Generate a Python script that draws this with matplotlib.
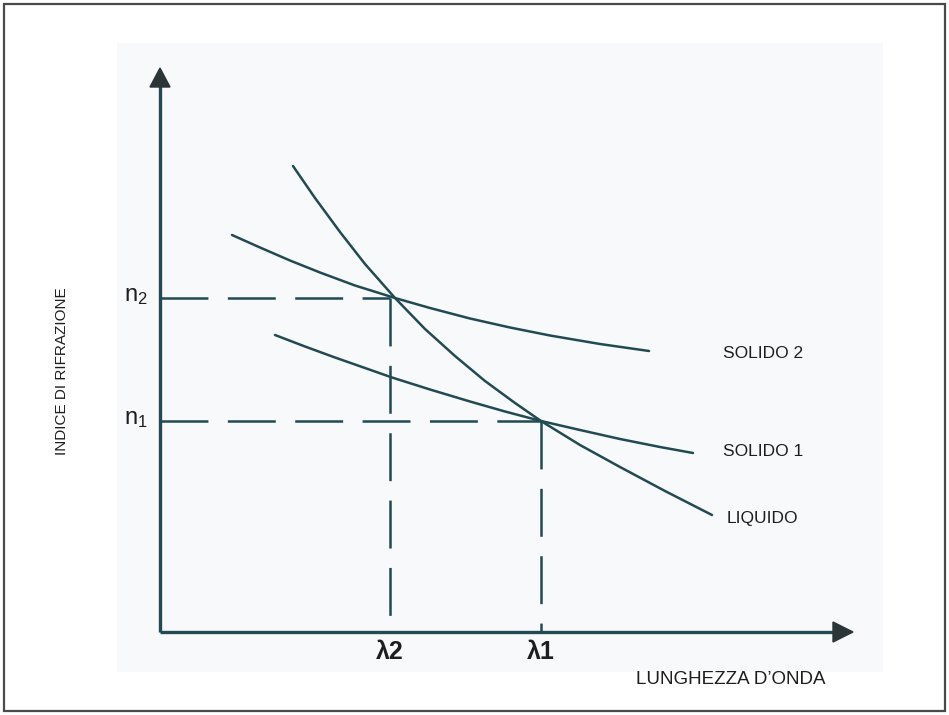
import matplotlib
matplotlib.use("Agg")
import matplotlib.pyplot as plt
from matplotlib.patches import Rectangle

# ---------------- data ----------------
# units: x = (px - 160)/10, y = (632 - py)/10
lam2 = 23.0
lam1 = 38.1
n2 = 33.4
n1 = 21.1

liq_x = [13.3, 15.5, 18.0, 20.5, 23.5, 26.5, 29.5, 32.5, 35.5, 38.1, 42.0, 46.0, 50.5, 55.2]
liq_y = [46.6, 43.4, 40.0, 36.8, 33.4, 30.3, 27.6, 25.1, 22.9, 21.1, 18.7, 16.5, 14.1, 11.7]

sol2_x = [7.2, 10.0, 13.0, 16.0, 19.5, 23.5, 27.0, 31.0, 35.0, 39.0, 44.0, 48.9]
sol2_y = [39.7, 38.45, 37.15, 35.95, 34.65, 33.4, 32.4, 31.35, 30.45, 29.65, 28.8, 28.1]

sol1_x = [11.5, 14.5, 17.5, 20.5, 23.2, 27.0, 31.0, 34.5, 38.1, 42.0, 46.0, 50.0, 53.3]
sol1_y = [29.7, 28.55, 27.45, 26.4, 25.45, 24.25, 23.05, 22.05, 21.1, 20.2, 19.3, 18.5, 17.9]

curve_labels = ["SOLIDO 2", "SOLIDO 1", "LIQUIDO"]
curve_label_x = [56.3, 56.3, 56.7]
curve_label_y = [27.8, 18.1, 11.3]
x_label = "LUNGHEZZA D\u2019ONDA"
y_label = "INDICE DI RIFRAZIONE"
x_ticks = [lam2, lam1]
x_tick_labels = ["\u03bb2", "\u03bb1"]
y_ticks = [n2, n1]
y_tick_labels = [r"n$_{2}$", r"n$_{1}$"]

x_axis_end = 69.3
y_axis_end = 56.4

# ---------------- style ----------------
plt.rcParams["font.family"] = ["Liberation Sans", "DejaVu Sans"]
plt.rcParams["mathtext.fontset"] = "custom"
plt.rcParams["mathtext.rm"] = "Liberation Sans"
plt.rcParams["mathtext.it"] = "Liberation Sans"
plt.rcParams["mathtext.bf"] = "Liberation Sans:bold"
plt.rcParams["lines.scale_dashes"] = False

line_col = "#214a53"
head_col = "#2b3437"
text_col = "#1e1e1e"

fig = plt.figure(figsize=(9.49, 7.15), dpi=100)
fig.patch.set_facecolor("white")
ax = fig.add_axes([0, 0, 1, 1])
ax.set_xlim(-16.0, 78.9)
ax.set_ylim(-8.3, 63.2)
ax.axis("off")

# outer border
fig.patches.append(Rectangle((0.004, 0.005), 0.992, 0.99, transform=fig.transFigure,
                             fill=False, edgecolor="#4a4a4a", linewidth=1.6, zorder=0))
# light panel
ax.add_patch(Rectangle((-4.3, -4.0), 76.6, 62.9, facecolor="#f8f9fb",
                       edgecolor="none", zorder=0))

# dashed guide lines
dash = (34.5, 14.0)
for xv, yv in zip(x_ticks, [n2, n1]):
    ax.plot([0, xv], [yv, yv], color=line_col, lw=1.8, dashes=dash, zorder=2)
    ax.plot([xv, xv], [yv, 0], color=line_col, lw=1.8, dashes=dash, zorder=2)

# curves
for xs, ys in [(sol2_x, sol2_y), (sol1_x, sol1_y), (liq_x, liq_y)]:
    ax.plot(xs, ys, color=line_col, lw=1.8, solid_joinstyle="round",
            solid_capstyle="round", zorder=3)

# axes with arrowheads
ax.plot([0, x_axis_end - 1.5], [0, 0], color=line_col, lw=2.4, zorder=4, solid_capstyle="butt")
ax.plot([0, 0], [0, y_axis_end - 1.5], color=line_col, lw=2.4, zorder=4, solid_capstyle="butt")
ax.arrow(x_axis_end - 2.0, 0, 2.0, 0, width=0.01, head_width=2.0, head_length=2.0,
         length_includes_head=True, color=head_col, zorder=5)
ax.arrow(0, y_axis_end - 1.9, 0, 1.9, width=0.01, head_width=2.0, head_length=1.9,
         length_includes_head=True, color=head_col, zorder=5)

# tick labels
for xv, lab in zip(x_ticks, x_tick_labels):
    ax.text(xv, -2.0, lab, ha="center", va="center", fontsize=18, fontweight="bold",
            color=text_col)
for yv, lab in zip(y_ticks, y_tick_labels):
    ax.text(-1.2, yv + 0.2, lab, ha="right", va="center", fontsize=17, color=text_col)

# curve labels
for lx, ly, lab in zip(curve_label_x, curve_label_y, curve_labels):
    ax.text(lx, ly, lab, ha="left", va="center", fontsize=12.5, color=text_col)

ax.text(66.6, -4.7, x_label, ha="right", va="center", fontsize=13.5, color=text_col)
ax.text(-9.8, 26.1, y_label, ha="center", va="center", rotation=90, fontsize=11,
        color=text_col)

fig.savefig("out.png", dpi=100, facecolor="white")
